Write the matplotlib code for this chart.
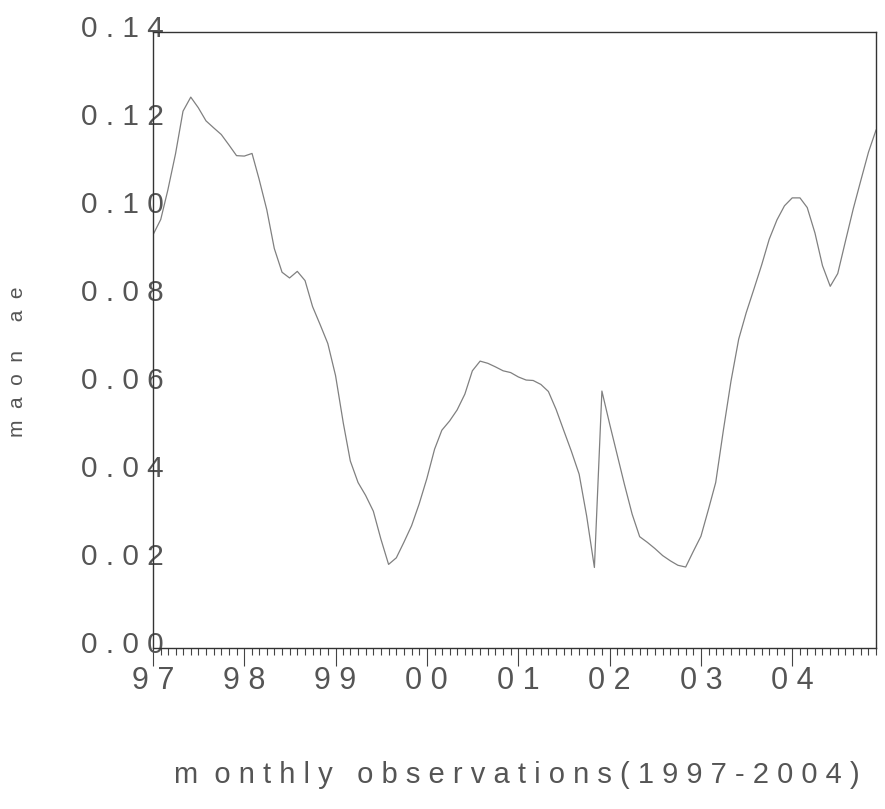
import numpy as np
import pandas as pd
import matplotlib
matplotlib.use("Agg")
import matplotlib.pyplot as plt
import matplotlib.dates as mdates
import matplotlib.transforms as mtransforms

# monthly series, 1997:01 - 2004:12
values = [
    0.0939, 0.0974, 0.1040, 0.1123, 0.1220, 0.1252, 0.1228, 0.1198,
    0.1182, 0.1167, 0.1143, 0.1119, 0.1118, 0.1124, 0.1066, 0.0996,
    0.0908, 0.0854, 0.0841, 0.0856, 0.0835, 0.0776, 0.0734, 0.0692,
    0.0619, 0.0511, 0.0425, 0.0376, 0.0347, 0.0311, 0.0248, 0.0190,
    0.0205, 0.0240, 0.0278, 0.0327, 0.0385, 0.0452, 0.0495, 0.0516,
    0.0541, 0.0577, 0.0630, 0.0652, 0.0647, 0.0639, 0.0630, 0.0626,
    0.0616, 0.0609, 0.0608, 0.0599, 0.0583, 0.0542, 0.0495, 0.0447,
    0.0395, 0.0300, 0.0183, 0.0584, 0.0509, 0.0437, 0.0372, 0.0304,
    0.0253, 0.0240, 0.0226, 0.0210, 0.0198, 0.0188, 0.0184, 0.0219,
    0.0254, 0.0317, 0.0376, 0.0496, 0.0606, 0.0702, 0.0762, 0.0816,
    0.0871, 0.0929, 0.0973, 0.1005, 0.1023, 0.1023, 0.1001, 0.0943,
    0.0869, 0.0822, 0.0851, 0.0925, 0.0998, 0.1062, 0.1127, 0.1177,
]
dates = pd.date_range("1997-01-01", periods=len(values), freq="MS")

yticks = [0.00, 0.02, 0.04, 0.06, 0.08, 0.10, 0.12, 0.14]
ytick_labels = ["0 . 0 0", "0 . 0 2", "0 . 0 4", "0 . 0 6",
                "0 . 0 8", "0 . 1 0", "0 . 1 2", "0 . 1 4"]
year_labels = ["9 7", "9 8", "9 9", "0 0", "0 1", "0 2", "0 3", "0 4"]
x_title = "m  o n t h l y   o b s e r v a t i o n s ( 1 9 9 7 - 2 0 0 4 )"
y_title = "m  a  o  n     a  e"

plt.rcParams['font.family'] = ['Liberation Sans', 'DejaVu Sans']

fig = plt.figure(figsize=(8.85, 8.09), dpi=100)
ax = fig.add_axes([153 / 885, 1 - 648 / 809, 723 / 885, 616 / 809])

ax.plot(dates, values, color="#808080", lw=0.9)

ax.set_xlim(dates[0], dates[-1])
ax.set_ylim(0, 0.14)

ax.set_yticks(yticks)
ax.set_yticklabels(ytick_labels, fontsize=21.5, color="#555555")
ax.tick_params(axis="y", length=0, pad=-8)
# labels in the scan sit a little above their values
shift = mtransforms.ScaledTranslation(0, 6 / 100, fig.dpi_scale_trans)
for lab in ax.get_yticklabels():
    lab.set_transform(lab.get_transform() + shift)

years = pd.date_range("1997-01-01", "2004-01-01", freq="YS")
ax.set_xticks(years)
ax.set_xticklabels(year_labels, fontsize=22, color="#555555")
ax.xaxis.set_minor_locator(mdates.MonthLocator())
ax.tick_params(axis="x", which="major", length=13, width=0.8,
               color="#444444", pad=0)
ax.tick_params(axis="x", which="minor", length=5, width=0.8,
               color="#444444")

for s in ax.spines.values():
    s.set_color("#333333")
    s.set_linewidth(1.0)

fig.text(517 / 885, 1 - 775 / 809, x_title, fontsize=21, color="#555555",
         ha="center", va="center")
fig.text(18 / 885, 1 - 362 / 809, y_title, fontsize=15, color="#555555",
         rotation=90, ha="center", va="center")

fig.savefig("out.png", dpi=100)
